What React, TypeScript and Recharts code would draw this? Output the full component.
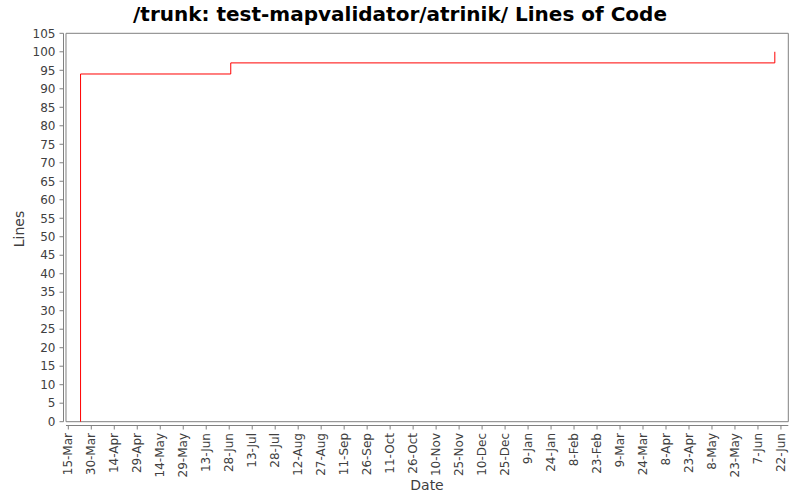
import { LineChart, Line, XAxis, YAxis, ReferenceArea, ReferenceLine } from 'recharts';

const START = '2011-03-15';
const MONTHS = ['Jan', 'Feb', 'Mar', 'Apr', 'May', 'Jun', 'Jul', 'Aug', 'Sep', 'Oct', 'Nov', 'Dec'];

// commit dates and line counts (stepAfter: each value holds until the next date)
const DATES = ['2011-03-23', '2011-03-23', '2011-06-29', '2012-06-18', '2012-06-18'];
const LINES = [0, 94, 97, 97, 100];

const TICK_DATES = [
  '2011-03-15', '2011-03-30', '2011-04-14', '2011-04-29', '2011-05-14', '2011-05-29', '2011-06-13', '2011-06-28',
  '2011-07-13', '2011-07-28', '2011-08-12', '2011-08-27', '2011-09-11', '2011-09-26', '2011-10-11', '2011-10-26',
  '2011-11-10', '2011-11-25', '2011-12-10', '2011-12-25', '2012-01-09', '2012-01-24', '2012-02-08', '2012-02-23',
  '2012-03-09', '2012-03-24', '2012-04-08', '2012-04-23', '2012-05-08', '2012-05-23', '2012-06-07', '2012-06-22',
];
const Y_TICKS = [0, 5, 10, 15, 20, 25, 30, 35, 40, 45, 50, 55, 60, 65, 70, 75, 80, 85, 90, 95, 100, 105];

const dayOf = (s: string) => (Date.parse(s + 'T00:00:00Z') - Date.parse(START + 'T00:00:00Z')) / 86400000;
const fmt = (d: number) => {
  const dt = new Date(Date.parse(START + 'T00:00:00Z') + d * 86400000);
  return `${dt.getUTCDate()}-${MONTHS[dt.getUTCMonth()]}`;
};

const data = DATES.map((d, i) => ({ day: dayOf(d), lines: LINES[i] }));
const xTicks = TICK_DATES.map(dayOf);

const X_MIN = -3.13;
const X_MAX = 469.8;
const BOX_LEFT = -1.5;
const Y_MIN = -1.03;
const FONT = 'DejaVu Sans, sans-serif';

const DateTick = ({ x, y, payload }: any) => (
  <text x={x} y={y} transform={`rotate(-90 ${x} ${y})`} textAnchor="end" dominantBaseline="central"
    fontSize={12} fontFamily={FONT} fill="#404040">
    {fmt(payload.value)}
  </text>
);

export default function App() {
  return (
    <div style={{ position: 'absolute', left: 0, top: 0, width: 800, height: 500, background: '#fff', fontFamily: FONT }}>
      <div style={{ position: 'absolute', left: 0, top: 2, width: 800, textAlign: 'center', fontSize: 20, fontWeight: 'bold', lineHeight: '24px', color: '#000' }}>
        /trunk: test-mapvalidator/atrinik/ Lines of Code
      </div>
      <div style={{ position: 'absolute', left: 19, top: 229, transform: 'translate(-50%, -50%) rotate(-90deg)', fontSize: 14, color: '#404040', whiteSpace: 'nowrap' }}>
        Lines
      </div>
      <div style={{ position: 'absolute', left: 427, top: 485, transform: 'translate(-50%, -50%)', fontSize: 14, color: '#404040' }}>
        Date
      </div>
      <LineChart width={800} height={500} data={data} margin={{ top: 33.3, right: 11.7, bottom: 0, left: 0 }}>
        <ReferenceArea x1={BOX_LEFT} x2={X_MAX} y1={0} y2={105} fill="none" stroke="#808080" strokeWidth={1} ifOverflow="visible" />
        <XAxis type="number" dataKey="day" domain={[X_MIN, X_MAX]} ticks={xTicks} interval={0} height={74.5}
          axisLine={false} tickLine={{ stroke: '#808080' }} tickSize={4} tickMargin={3.5} tick={<DateTick />} allowDataOverflow />
        <YAxis type="number" domain={[Y_MIN, 105]} ticks={Y_TICKS} interval={0} width={63.5}
          axisLine={false} tickLine={{ stroke: '#808080' }} tickSize={4} tickMargin={4}
          tick={{ fontSize: 12, fontFamily: FONT, fill: '#404040' }} allowDataOverflow />
        <ReferenceLine segment={[{ x: X_MIN, y: 0 }, { x: X_MIN, y: 105 }]} stroke="#808080" ifOverflow="visible" />
        <ReferenceLine segment={[{ x: BOX_LEFT, y: Y_MIN }, { x: X_MAX, y: Y_MIN }]} stroke="#808080" ifOverflow="visible" />
        <Line type="stepAfter" dataKey="lines" stroke="#ff0000" strokeWidth={1} dot={false} activeDot={false} isAnimationActive={false} />
      </LineChart>
    </div>
  );
}
